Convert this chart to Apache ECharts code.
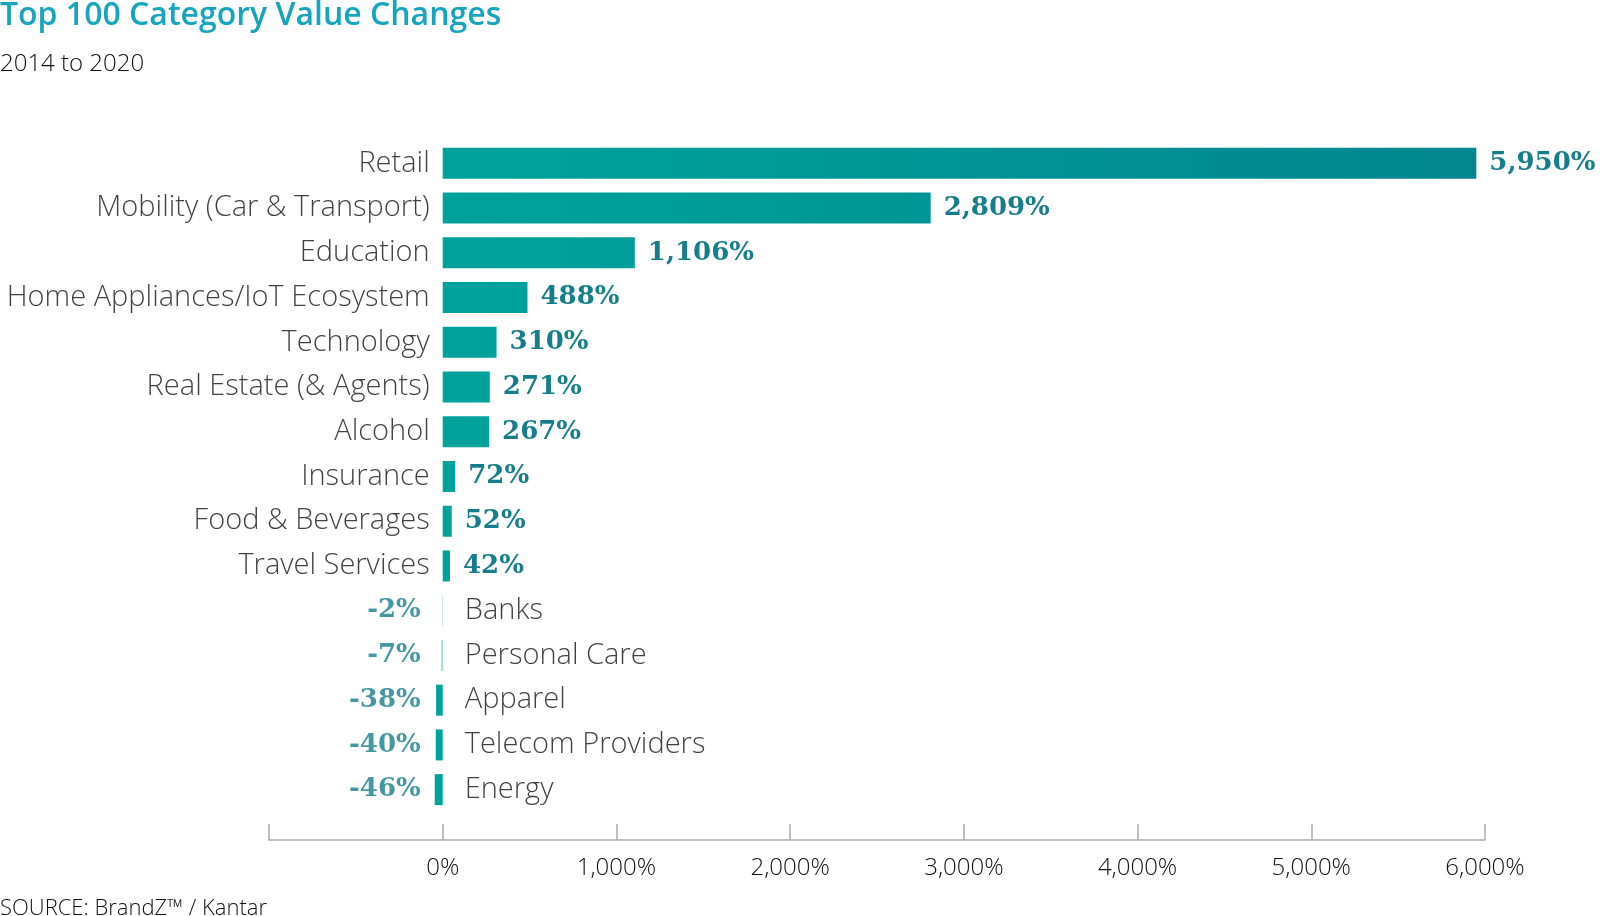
<!DOCTYPE html>
<html>
<head>
<meta charset="utf-8">
<script src="https://cdn.jsdelivr.net/npm/echarts@6/dist/echarts.min.js"></script>
<style>
html,body{margin:0;padding:0;background:#fff;}
#chart{width:1600px;height:916px;}
</style>
</head>
<body>
<div id="chart"></div>
<script>
const categories = ["Retail","Mobility (Car & Transport)","Education","Home Appliances/IoT Ecosystem","Technology","Real Estate (& Agents)","Alcohol","Insurance","Food & Beverages","Travel Services","Banks","Personal Care","Apparel","Telecom Providers","Energy"];
const values = [5950, 2809, 1106, 488, 310, 271, 267, 72, 52, 42, -2, -7, -38, -40, -46];
const xTicks = [-1000, 0, 1000, 2000, 3000, 4000, 5000, 6000];

const fmt = v => v.toLocaleString('en-US') + '%';
const sansFont = 'Open Sans';
const serifFont = 'DejaVu Serif';
const valueColor = '#167e8a';

const chart = echarts.init(document.getElementById('chart'));
const barGrad = {
  type: 'linear', x: 443, y: 0, x2: 1485, y2: 0, global: true,
  colorStops: [{offset: 0, color: '#00a39c'}, {offset: 1, color: '#00868f'}]
};
const option = {
  animation: false,
  title: [
    {text: 'Top 100 Category Value Changes', left: 0, top: 0, padding: 0,
     textStyle: {fontFamily: sansFont, fontWeight: 600, fontSize: 32, color: '#16a5bd'}},
    {text: '2014 to 2020', left: 0, top: 52, padding: 0,
     textStyle: {fontFamily: sansFont, fontWeight: 300, fontSize: 24, color: '#111'}},
    {text: 'SOURCE: BrandZ\u2122 / Kantar', left: 0, top: 898, padding: 0,
     textStyle: {fontFamily: sansFont, fontWeight: 300, fontSize: 22, color: '#111'}}
  ],
  grid: {left: 269, right: 115, top: 141, bottom: 104, containLabel: false},
  xAxis: {
    type: 'value', min: xTicks[0], max: xTicks[xTicks.length - 1], interval: 1000, offset: 28,
    axisLine: {show: true, lineStyle: {color: '#aaa', width: 1.5}},
    axisTick: {show: true, inside: true, length: 16, lineStyle: {color: '#aaa', width: 1.5}},
    splitLine: {show: false},
    axisLabel: {margin: 16, fontFamily: sansFont, fontWeight: 300, fontSize: 24, color: '#111',
      formatter: v => v < 0 ? '' : fmt(v)}
  },
  yAxis: {
    type: 'category', data: categories, inverse: true,
    axisLine: {show: false}, axisTick: {show: false}, axisLabel: {show: false}
  },
  series: [
    {
      type: 'bar', barWidth: 31,
      data: values.map(v => ({value: v, itemStyle: {color: Math.abs(v) < 10 ? '#7cc8c4' : barGrad}})),
      itemStyle: {color: barGrad},
      label: {
        show: true, position: 'right', distance: 13,
        fontFamily: serifFont, fontWeight: 'bold', fontSize: 26, color: valueColor,
        formatter: p => p.value >= 0 ? fmt(p.value) : ''
      }
    },
    {
      type: 'scatter', symbolSize: 0, silent: true,
      data: categories.map((c, i) => ({
        value: [0, c],
        label: {position: values[i] >= 0 ? 'left' : 'right', distance: values[i] >= 0 ? 13 : 22}
      })),
      label: {
        show: true, fontFamily: sansFont, fontWeight: 300, fontSize: 29, color: '#111',
        formatter: p => p.value[1]
      }
    },
    {
      type: 'scatter', symbolSize: 0, silent: true,
      data: categories.map((c, i) => values[i] < 0 ? [0, c, values[i]] : null).filter(d => d),
      label: {
        show: true, position: 'left', distance: 22,
        fontFamily: serifFont, fontWeight: 'bold', fontSize: 26, color: valueColor,
        formatter: p => fmt(p.value[2])
      }
    }
  ]
};
chart.setOption(option);
</script>
</body>
</html>
